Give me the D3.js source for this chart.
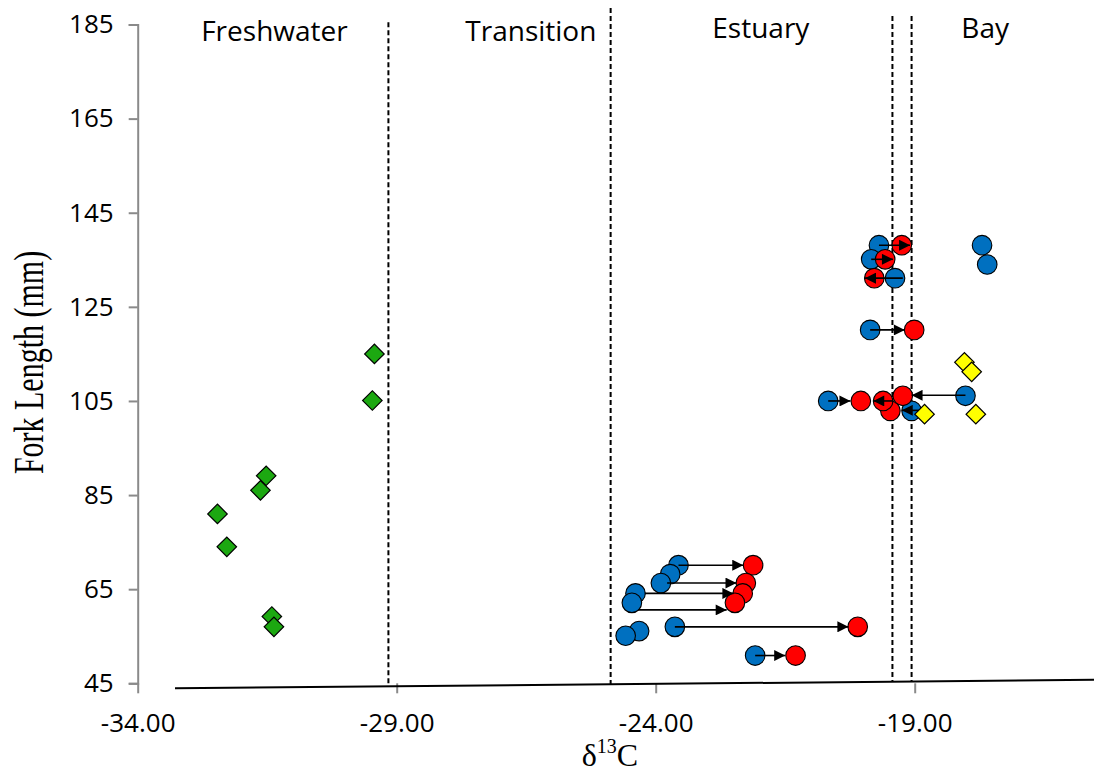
<!doctype html>
<html lang="en">
<head>
    <meta charset="utf-8">
    <title>Fork length vs d13C</title>
    <script src="https://d3js.org/d3.v7.min.js"></script>
    <style>
        body { margin: 0; background: #fff; }
        svg { display: block; }
    </style>
</head>
<body>
<script>
    // ---- data ----
    var xTicks = [-34, -29, -24, -19];
    var yTicks = [45, 65, 85, 105, 125, 145, 165, 185];

    // habitat zones: dashed boundaries and their labels
    var boundaryX   = [-29.16, -24.87, -19.43, -19.06];
    var boundaryTop = [185.5, 188.5, 186.8, 186.8];
    var regionNames = ["Freshwater", "Transition", "Estuary", "Bay"];
    var regionX     = [-31.36, -26.41, -21.97, -17.64];
    var regionY     = [181.5, 181.5, 182.1, 182.1];

    // green diamonds (freshwater fish)
    var greenX = [-29.43, -29.47, -31.52, -31.63, -32.46, -32.28, -31.41, -31.37];
    var greenY = [115.0, 105.1, 89.1, 86.0, 81.0, 74.0, 59.2, 57.0];

    // yellow diamonds (bay fish)
    var yellowX = [-18.04, -17.90, -18.81, -17.82];
    var yellowY = [113.2, 111.2, 102.2, 102.2];

    // blue circles (first value)
    var blueX = [-19.69, -19.84, -19.38, -17.70, -17.60, -19.86, -20.67, -18.02, -19.06,
                 -23.56, -23.72, -23.90, -24.39, -24.46, -24.32, -24.58, -23.63, -22.08];
    var blueY = [138.1, 135.1, 131.1, 138.1, 134.0, 120.1, 105.0, 106.1, 102.9,
                 70.1, 68.2, 66.3, 64.1, 62.1, 56.1, 55.1, 57.0, 50.9];

    // red circles (second value)
    var redX = [-19.47, -19.25, -19.57, -19.78, -19.01, -20.04, -19.61, -19.23,
                -22.12, -22.26, -22.32, -22.47, -20.10, -21.30];
    var redY = [102.9, 138.1, 135.1, 131.1, 120.1, 105.0, 105.0, 106.1,
                70.1, 66.3, 64.1, 62.1, 57.0, 50.9];

    // arrows: start x, tip x, y
    var arrowFrom = [-19.69, -19.84, -19.23, -19.86, -20.67, -19.42, -18.02, -18.90,
                     -23.56, -23.78, -24.21, -24.34, -23.63, -22.08];
    var arrowTo   = [-19.09, -19.42, -19.96, -19.19, -20.24, -19.80, -19.06, -19.25,
                     -22.31, -22.44, -22.50, -22.63, -20.28, -21.50];
    var arrowY    = [138.1, 135.1, 131.1, 120.1, 105.0, 105.0, 106.2, 103.0,
                     70.1, 66.3, 64.1, 60.6, 57.0, 50.9];

    // hand-drawn baseline under the plot
    var baseX = [-33.28, -15.3];
    var baseY = [43.94, 45.76];

    // ---- layout ----
    const width = 1094, height = 773;

    const svg = d3.select("body").append("svg")
        .attr("width", width)
        .attr("height", height);

    const x = d3.scaleLinear().domain([-34, -19]).range([137.7, 914.7]);
    const y = d3.scaleLinear().domain([45, 185]).range([683.3, 24.5]);

    const tickFont = "'Open Sans', sans-serif";
    const serif = "'Liberation Serif', 'Times New Roman', serif";

    // arrow head
    svg.append("defs").append("marker")
        .attr("id", "head")
        .attr("markerUnits", "userSpaceOnUse")
        .attr("viewBox", "0 0 10 10")
        .attr("refX", 10).attr("refY", 5)
        .attr("markerWidth", 12).attr("markerHeight", 11)
        .attr("orient", "auto")
        .append("path")
        .attr("d", "M0,0 L10,5 L0,10 Z")
        .attr("fill", "#000");

    // y axis
    const yAxis = svg.append("g")
        .attr("transform", "translate(" + x(-34) + ",0)")
        .call(d3.axisLeft(y).tickValues(yTicks).tickSize(9).tickPadding(15));
    yAxis.select(".domain").attr("stroke", "#8a8a8a").attr("stroke-width", 2);
    yAxis.selectAll(".tick line").attr("stroke", "#8a8a8a").attr("stroke-width", 2);
    yAxis.selectAll("text").attr("font-family", tickFont).attr("font-size", 26).attr("fill", "#000");

    // x axis (ticks only; the axis line itself is the drawn baseline)
    const xAxis = svg.append("g")
        .attr("transform", "translate(0," + y(45) + ")")
        .call(d3.axisBottom(x).tickValues(xTicks).tickSize(10).tickPadding(20)
              .tickFormat(function(d) { return d.toFixed(2); }));
    xAxis.select(".domain").remove();
    xAxis.selectAll(".tick line").attr("stroke", "#8a8a8a").attr("stroke-width", 2);
    xAxis.selectAll("text").attr("font-family", tickFont).attr("font-size", 26).attr("fill", "#000");

    // baseline
    svg.append("line")
        .attr("x1", x(baseX[0])).attr("y1", y(baseY[0]))
        .attr("x2", x(baseX[1])).attr("y2", y(baseY[1]))
        .attr("stroke", "#000").attr("stroke-width", 2);

    function baseAt(v) {
        var t = (v - baseX[0]) / (baseX[1] - baseX[0]);
        return baseY[0] + t * (baseY[1] - baseY[0]);
    }

    // zone boundaries
    svg.append("g").selectAll("line")
        .data(boundaryX)
        .enter().append("line")
        .attr("x1", function(d) { return x(d); })
        .attr("x2", function(d) { return x(d); })
        .attr("y1", function(d, i) { return y(boundaryTop[i]); })
        .attr("y2", function(d) { return y(baseAt(d)); })
        .attr("stroke", "#000")
        .attr("stroke-width", 2)
        .attr("stroke-dasharray", "5,3");

    // zone labels
    svg.append("g").selectAll("text")
        .data(regionNames)
        .enter().append("text")
        .attr("x", function(d, i) { return x(regionX[i]); })
        .attr("y", function(d, i) { return y(regionY[i]); })
        .attr("text-anchor", "middle")
        .attr("font-family", tickFont)
        .attr("font-size", 28)
        .text(function(d) { return d; });

    // axis titles
    svg.append("text")
        .attr("transform", "translate(42.7,362.5) rotate(-90) scale(1,1.38)")
        .attr("text-anchor", "middle")
        .attr("font-family", serif)
        .attr("font-size", 30)
        .text("Fork Length (mm)");

    const xt = svg.append("text")
        .attr("x", 610).attr("y", 766)
        .attr("text-anchor", "middle")
        .attr("font-family", serif)
        .attr("font-size", 32);
    xt.append("tspan").text("\u03B4");
    xt.append("tspan").attr("font-size", 20).attr("dy", -13).text("13");
    xt.append("tspan").attr("dy", 13).text("C");

    // points
    const diamond = d3.symbol().type(d3.symbolSquare).size(190);

    function drawDiamonds(xs, ys, fill) {
        svg.append("g").selectAll("path")
            .data(xs)
            .enter().append("path")
            .attr("d", diamond)
            .attr("transform", function(d, i) {
                return "translate(" + x(d) + "," + y(ys[i]) + ") rotate(45)";
            })
            .attr("fill", fill)
            .attr("stroke", "#000")
            .attr("stroke-width", 1.2);
    }

    function drawCircles(xs, ys, fill) {
        svg.append("g").selectAll("circle")
            .data(xs)
            .enter().append("circle")
            .attr("cx", function(d) { return x(d); })
            .attr("cy", function(d, i) { return y(ys[i]); })
            .attr("r", 9.8)
            .attr("fill", fill)
            .attr("stroke", "#000")
            .attr("stroke-width", 1.1);
    }

    drawDiamonds(greenX, greenY, "#1ca811");
    drawCircles(blueX, blueY, "#0070c0");
    drawCircles(redX, redY, "#ff0000");

    // arrows from first to second value
    svg.append("g").selectAll("line")
        .data(arrowFrom)
        .enter().append("line")
        .attr("x1", function(d) { return x(d); })
        .attr("x2", function(d, i) { return x(arrowTo[i]); })
        .attr("y1", function(d, i) { return y(arrowY[i]); })
        .attr("y2", function(d, i) { return y(arrowY[i]); })
        .attr("stroke", "#000")
        .attr("stroke-width", 1.6)
        .attr("marker-end", "url(#head)");

    drawDiamonds(yellowX, yellowY, "#ffff00");
</script>
</body>
</html>
